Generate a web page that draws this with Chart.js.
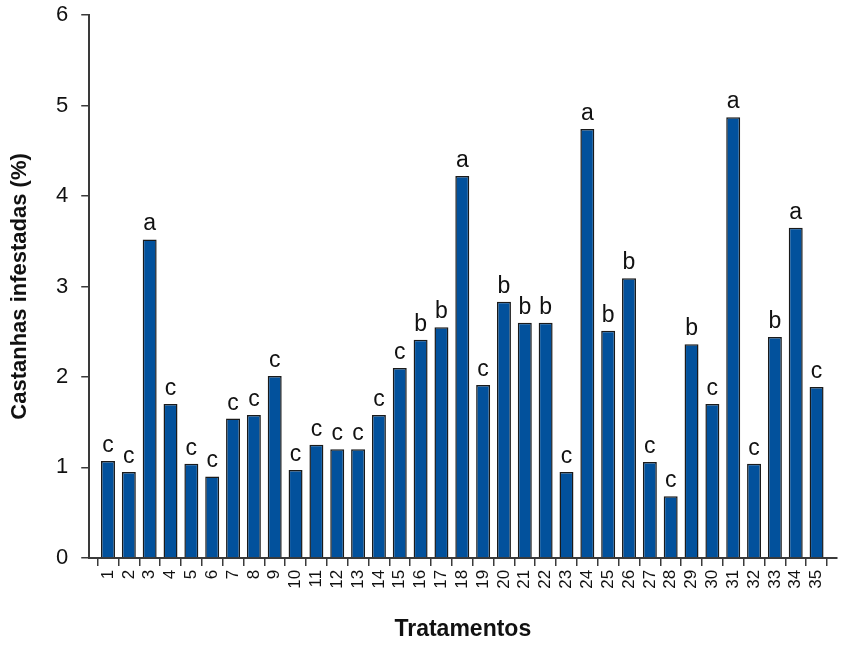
<!DOCTYPE html>
<html>
<head>
<meta charset="utf-8">
<script src="https://cdn.jsdelivr.net/npm/chart.js@4/dist/chart.umd.min.js"></script>
<style>
  html, body { margin: 0; padding: 0; background: #fff; }
  #wrap { width: 841px; height: 646px; }
</style>
</head>
<body>
<div id="wrap"><canvas id="c" width="841" height="646"></canvas></div>
<script>
// Treatments 1..35
const treatments = [1,2,3,4,5,6,7,8,9,10,11,12,13,14,15,16,17,18,19,20,21,22,23,24,25,26,27,28,29,30,31,32,33,34,35];
// Infested chestnuts (%)
const infested = [1.07,0.95,3.52,1.70,1.04,0.90,1.54,1.58,2.01,0.97,1.25,1.20,1.20,1.58,2.10,2.41,2.55,4.22,1.91,2.83,2.60,2.60,0.95,4.74,2.51,3.09,1.06,0.68,2.36,1.70,4.87,1.04,2.44,3.65,1.89];
// Significance groups
const groups = ['c','c','a','c','c','c','c','c','c','c','c','c','c','c','c','b','b','a','c','b','b','b','c','a','b','b','c','c','b','c','a','c','b','a','c'];
const yTicks = [0,1,2,3,4,5,6];

const FONT = "'Liberation Sans', Arial, Helvetica, sans-serif";
const AXIS = '#3a3a3a';

// Group letter above each bar
const groupLabels = {
  id: 'groupLabels',
  afterDatasetsDraw(chart) {
    const ctx = chart.ctx;
    const meta = chart.getDatasetMeta(0);
    ctx.save();
    ctx.fillStyle = '#111';
    ctx.font = '23px ' + FONT;
    ctx.textAlign = 'center';
    ctx.textBaseline = 'alphabetic';
    meta.data.forEach((bar, i) => {
      ctx.fillText(groups[i], bar.x, bar.y - 9);
    });
    ctx.restore();
  }
};

new Chart(document.getElementById('c'), {
  type: 'bar',
  data: {
    datasets: [{
      data: treatments.map((t, i) => ({ x: t, y: infested[i] })),
      backgroundColor: '#02519c',
      borderColor: '#1a1a1a',
      borderWidth: 1.5,
      barPercentage: 0.67,
      categoryPercentage: 1.0
    }]
  },
  options: {
    responsive: false,
    animation: false,
    layout: { padding: { top: 15, right: 1, left: 7, bottom: 3 } },
    plugins: { legend: { display: false }, tooltip: { enabled: false } },
    scales: {
      x: {
        type: 'linear',
        min: 0.1,
        max: 35.95,
        offset: false,
        afterBuildTicks(scale) { scale.ticks = treatments.map(v => ({ value: v })); },
        grid: { display: true, drawOnChartArea: false, drawTicks: true, tickLength: 8, color: AXIS, lineWidth: 1.5 },
        border: { display: true, color: AXIS, width: 2 },
        ticks: {
          autoSkip: false,
          minRotation: 90,
          maxRotation: 90,
          padding: 4,
          color: '#111',
          font: { family: FONT, size: 17 },
          callback: v => String(v)
        },
        title: {
          display: true,
          text: 'Tratamentos',
          color: '#111',
          font: { family: FONT, size: 23, weight: 'bold' },
          padding: { top: 22.6, bottom: 0 }
        }
      },
      y: {
        min: 0,
        max: 6,
        afterBuildTicks(scale) { scale.ticks = yTicks.map(v => ({ value: v })); },
        afterFit(scale) { scale.paddingTop = 0; },
        grid: { display: true, drawOnChartArea: false, drawTicks: true, tickLength: 8, color: AXIS, lineWidth: 1.5 },
        border: { display: true, color: AXIS, width: 2 },
        ticks: {
          padding: 13,
          color: '#111',
          font: { family: FONT, size: 22 }
        },
        title: {
          display: true,
          text: 'Castanhas infestadas (%)',
          color: '#111',
          font: { family: FONT, size: 22, weight: 'bold' },
          padding: { top: 0, bottom: 9.6 }
        }
      }
    }
  },
  plugins: [groupLabels]
});
</script>
</body>
</html>
